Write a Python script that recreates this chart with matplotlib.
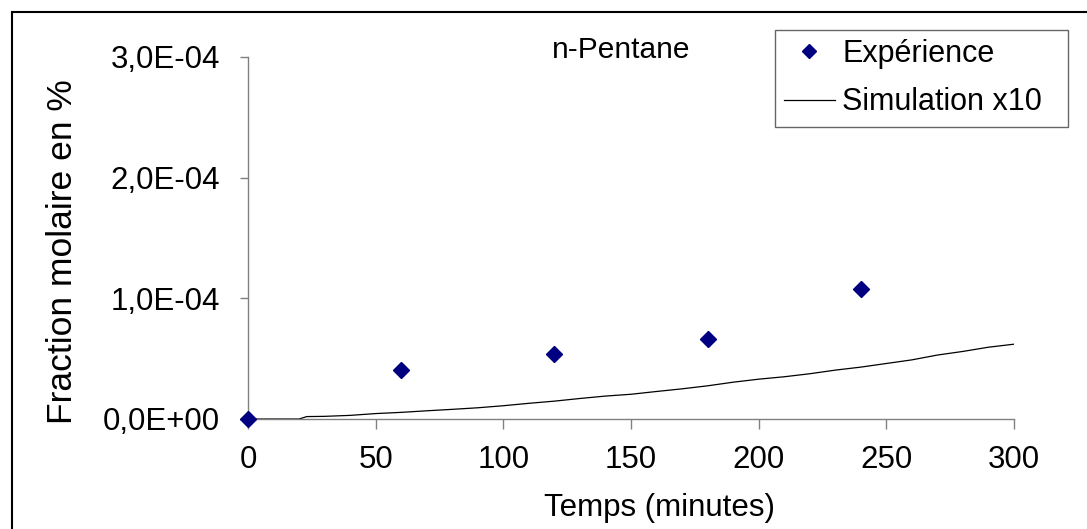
import matplotlib
matplotlib.use("Agg")
import matplotlib.pyplot as plt
from matplotlib.patches import Rectangle
from matplotlib.lines import Line2D

# ---- data ----
exp_time = [0, 60, 120, 180, 240]
exp_frac = [0.0, 0.41e-4, 0.54e-4, 0.66e-4, 1.08e-4]

sim_time = [0, 10, 20, 23, 30, 40, 50, 60, 70, 80, 90, 100, 110, 120, 130, 140,
            150, 160, 170, 180, 190, 200, 210, 220, 230, 240, 250, 260, 270, 280,
            290, 300]
sim_frac = [0.0, 0.0, 0.0, 0.02e-4, 0.022e-4, 0.03e-4, 0.045e-4, 0.055e-4,
            0.068e-4, 0.08e-4, 0.093e-4, 0.11e-4, 0.13e-4, 0.148e-4, 0.17e-4,
            0.19e-4, 0.205e-4, 0.228e-4, 0.25e-4, 0.275e-4, 0.305e-4, 0.33e-4,
            0.35e-4, 0.375e-4, 0.405e-4, 0.43e-4, 0.46e-4, 0.49e-4, 0.53e-4,
            0.56e-4, 0.595e-4, 0.62e-4]

x_ticks = [0, 50, 100, 150, 200, 250, 300]
y_ticks = [0.0, 1e-4, 2e-4, 3e-4]
y_tick_labels = ["0,0E+00", "1,0E-04", "2,0E-04", "3,0E-04"]

title = "n-Pentane"
xlabel = "Temps (minutes)"
ylabel = "Fraction molaire en %"
legend_exp = "Expérience"
legend_sim = "Simulation x10"

# ---- figure ----
W, H = 1087, 529
plt.rcParams['font.family'] = ['Liberation Sans', 'DejaVu Sans']
fig = plt.figure(figsize=(W / 100, H / 100), dpi=100)

ax_left, ax_right, ax_top, ax_bot = 248, 1014, 57, 419
ax = fig.add_axes([ax_left / W, (H - ax_bot) / H,
                   (ax_right - ax_left) / W, (ax_bot - ax_top) / H])

ax.plot(sim_time, sim_frac, color='black', lw=0.9, label=legend_sim, zorder=2)
ax.plot(exp_time, exp_frac, linestyle='none', marker='D', markersize=8,
        color='#000080', label=legend_exp, clip_on=False, zorder=3)

ax.set_xlim(0, 300)
ax.set_ylim(0, 3e-4)
ax.set_xticks(x_ticks)
ax.set_xticklabels([str(v) for v in x_ticks])
ax.set_yticks(y_ticks)
ax.set_yticklabels(y_tick_labels)

for s in ['top', 'right']:
    ax.spines[s].set_visible(False)
for s in ['left', 'bottom']:
    ax.spines[s].set_color('#808080')
    ax.spines[s].set_linewidth(1.0)

ax.tick_params(axis='both', direction='out', color='#808080', width=1.0,
               labelsize=22.5, labelcolor='black')
ax.tick_params(axis='x', length=7.5, pad=11)
ax.tick_params(axis='y', length=6, pad=14)

fig.text(621 / W, (H - 58) / H, title, fontsize=21.5, ha='center', va='baseline')
fig.text(660 / W, (H - 508) / H, xlabel, fontsize=22.5, ha='center', va='center')
fig.text(62 / W, (H - 252) / H, ylabel, fontsize=25.5, ha='center', va='center',
         rotation=90)

# legend
h_exp = Line2D([], [], linestyle='none', marker='D', markersize=7, color='#000080')
h_sim = Line2D([], [], color='black', lw=0.9)
leg = fig.legend([h_exp, h_sim], [legend_exp, legend_sim],
                 loc='upper left',
                 bbox_to_anchor=(775 / W, (H - 30) / H, (1068 - 775) / W, 0.0001),
                 mode='expand', fontsize=22, frameon=True, fancybox=False,
                 borderpad=0.3, labelspacing=0.6, handlelength=1.65,
                 handletextpad=0.25, borderaxespad=0.0)
leg.get_frame().set_edgecolor('#404040')
leg.get_frame().set_linewidth(1.0)

# outer chart border
fig.add_artist(Rectangle((12 / W, -0.1), 1.2, (H - 12) / H + 0.1,
                         transform=fig.transFigure, fill=False,
                         edgecolor='black', lw=1.5))

fig.savefig("out.png", dpi=100)
